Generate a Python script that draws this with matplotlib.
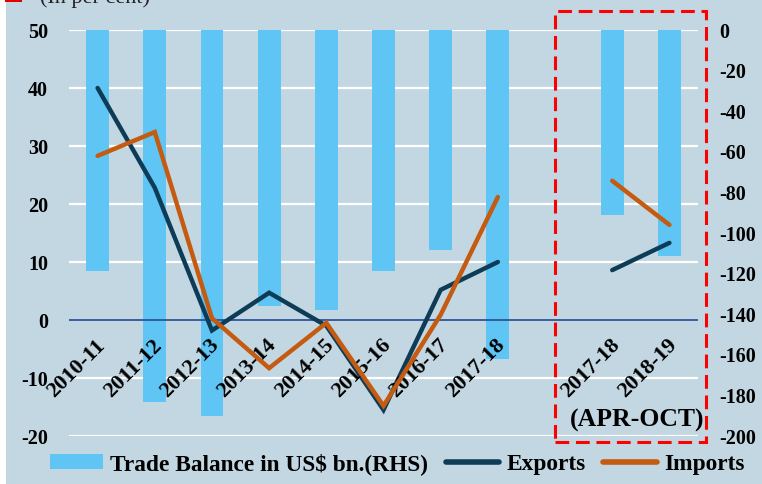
import matplotlib.pyplot as plt
import numpy as np
from matplotlib.patches import Rectangle, Patch
from matplotlib.lines import Line2D

plt.rcParams["font.family"] = ["Liberation Serif", "DejaVu Serif"]
plt.rcParams["font.weight"] = "bold"
plt.rcParams["axes.unicode_minus"] = False

# data
years = ["2010-11", "2011-12", "2012-13", "2013-14", "2014-15", "2015-16",
         "2016-17", "2017-18", "", "2017-18", "2018-19"]
trade_balance = [-118.6, -183.4, -190.3, -135.8, -137.7, -118.7, -108.5, -162.0,
                 np.nan, -91.1, -111.2]
exports = [40.0, 22.8, -1.8, 4.7, -1.0, -15.5, 5.2, 10.0, np.nan, 8.6, 13.3]
imports = [28.3, 32.4, 0.3, -8.3, -0.5, -14.8, 0.9, 21.2, np.nan, 24.0, 16.4]
left_ticks = [50, 40, 30, 20, 10, 0, -10, -20]
right_ticks = [0, -20, -40, -60, -80, -100, -120, -140, -160, -180, -200]

BG = "#c3d7e2"
BAR = "#5ec5f4"
EXP = "#0e3c57"
IMP = "#c55a11"

fig = plt.figure(figsize=(7.62, 4.84), dpi=100)
fig.patch.set_facecolor(BG)
fig.patches.append(Rectangle((0, 0), 6 / 762, 1, transform=fig.transFigure,
                             facecolor="white", edgecolor="none"))
fig.patches.append(Rectangle((5 / 762, 1 - 2 / 484), 17 / 762, 2 / 484,
                             transform=fig.transFigure, facecolor="#e00000",
                             edgecolor="none"))
fig.text(40 / 762, 1 - 3 / 484, "(In per cent)", fontsize=16, fontweight="normal",
         va="baseline", ha="left", color="#222222")

rect = [69 / 762, 1 - 436 / 484, (698 - 69) / 762, (436 - 30) / 484]
ax = fig.add_axes(rect)
ax.set_facecolor(BG)
x = np.arange(len(years))

# grid on base axes (left scale)
ax.set_ylim(-20, 50)
ax.set_xlim(-0.5, len(years) - 0.5)
ax.set_yticks(left_ticks)
for t in left_ticks:
    if t != 0:
        ax.axhline(t, color="white", linewidth=1.6, zorder=0)
ax.tick_params(axis="y", length=0, pad=15, labelsize=14.5)
ax.set_xticks([])
for s in ax.spines.values():
    s.set_visible(False)

# bars on right scale
axb = ax.twinx()
axb.set_ylim(-200, 0)
axb.set_yticks(right_ticks)
axb.bar(x, trade_balance, width=0.4, bottom=0, color=BAR, zorder=2)
axb.tick_params(axis="y", length=0, pad=15, labelsize=14.5)
for s in axb.spines.values():
    s.set_visible(False)

# lines on left scale
axl = ax.twinx()
axl.set_ylim(-20, 50)
axl.set_yticks([])
for s in axl.spines.values():
    s.set_visible(False)
axl.axhline(0, color="#2f5597", linewidth=1.3, zorder=1)
axl.plot(x, exports, color=EXP, linewidth=3.2, solid_capstyle="round",
         solid_joinstyle="miter", zorder=3)
axl.plot(x, imports, color=IMP, linewidth=3.2, solid_capstyle="round",
         solid_joinstyle="miter", zorder=4)

for xi, lab in zip(x, years):
    if lab:
        axl.annotate(lab, (xi, 0), xytext=(-2, -11), textcoords="offset points",
                     rotation=45, ha="right", va="top", rotation_mode="anchor",
                     fontsize=16)

fig.text(637 / 762, 1 - 420 / 484, "(APR-OCT)", fontsize=18.5, ha="center",
         va="center")

fig.patches.append(Rectangle((555 / 762, 1 - 442 / 484), (706 - 555) / 762,
                             (442 - 11) / 484, transform=fig.transFigure,
                             fill=False, edgecolor="#ff0000", linewidth=2.2,
                             linestyle=(0, (4.5, 2.2))))

handles = [Patch(facecolor=BAR, edgecolor="none"),
           Line2D([], [], color=EXP, linewidth=4, solid_capstyle="round"),
           Line2D([], [], color=IMP, linewidth=4, solid_capstyle="round")]
fig.legend(handles, ["Trade Balance in US$ bn.(RHS)", "Exports", "Imports"],
           loc="center", bbox_to_anchor=(397 / 762, 1 - 464 / 484), ncol=3,
           frameon=False, fontsize=16.8, handlelength=2.3, handleheight=0.6,
           handletextpad=0.3, columnspacing=0.75, borderpad=0, borderaxespad=0)

fig.savefig("out.png", dpi=100, facecolor=fig.get_facecolor())
